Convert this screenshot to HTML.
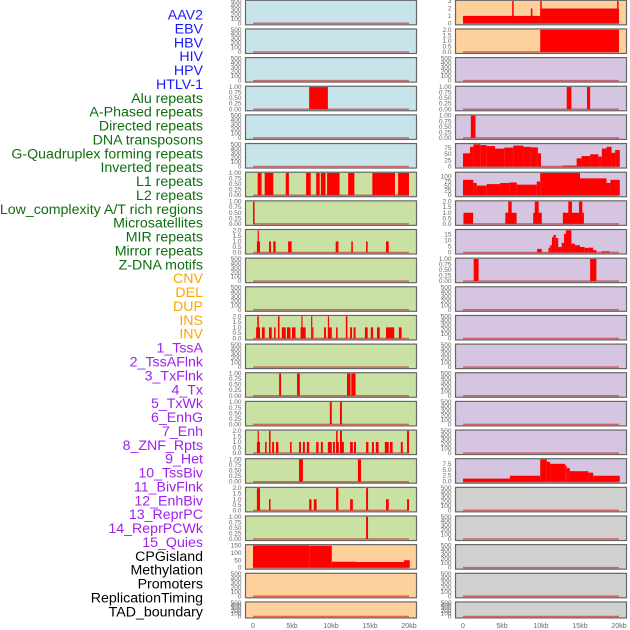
<!DOCTYPE html>
<html><head><meta charset="utf-8"><style>
html,body{margin:0;padding:0;background:#fff;width:630px;height:630px;overflow:hidden}
svg{display:block;font-family:"Liberation Sans",sans-serif}
</style></head><body>
<svg id="chart" width="630" height="630" viewBox="0 0 630 630"></svg>
<script>
// ---- labels ----
const trackLabels = ["AAV2","EBV","HBV","HIV","HPV","HTLV-1","Alu repeats","A-Phased repeats","Directed repeats","DNA transposons","G-Quadruplex forming repeats","Inverted repeats","L1 repeats","L2 repeats","Low_complexity A/T rich regions","Microsatellites","MIR repeats","Mirror repeats","Z-DNA motifs","CNV","DEL","DUP","INS","INV","1_TssA","2_TssAFlnk","3_TxFlnk","4_Tx","5_TxWk","6_EnhG","7_Enh","8_ZNF_Rpts","9_Het","10_TssBiv","11_BivFlnk","12_EnhBiv","13_ReprPC","14_ReprPCWk","15_Quies","CPGisland","Methylation","Promoters","ReplicationTiming","TAD_boundary"];
const labelGroups = [6,13,5,15,5];
const groupColors = ["#1a1aff","#0f6e0f","#ffa500","#a020f0","#000000"];
const xTickValues = [0,5,10,15,20];
const xTickLabels = ["0","5kb","10kb","15kb","20kb"];

// ---- panel data: segments [startKb, endKb, value] ----
const L3 = [[7.2,9.6,1]];
const L6 = [[0.6,1.1,1],[1.5,2.6,1],[4.2,4.6,1],[6.8,7.4,1],[8.1,8.55,1],[8.7,9.3,1],[9.5,11.1,1],[12.2,13.0,1],[15.3,18.2,1],[18.6,20.0,1]];
const L7 = [[0,0.2,1]];
const L8 = [[0.5,0.9,1],[0.6,0.75,2],[2.05,2.3,1],[2.6,2.9,1],[4.5,4.95,1],[10.6,10.95,1],[12.6,12.8,1],[14.5,14.7,1],[17.05,17.4,1]];
const L11 = [[0.4,0.9,1],[0.55,0.75,2],[1.15,1.5,1],[2.05,2.4,1],[2.7,2.9,1],[3.2,3.4,2],[3.7,4.2,1],[4.35,4.8,1],[5.0,5.45,1],[6.1,6.75,1],[6.2,6.35,2],[7.45,7.6,2],[7.6,7.75,1],[9.1,9.35,1],[9.6,10.1,1],[9.6,9.75,2],[10.65,10.85,1],[11.9,12.1,2],[12.45,12.7,1],[12.9,13.15,1],[14.35,14.7,1],[15.1,15.4,1],[15.9,16.25,1],[17.05,18.1,1],[18.7,19.05,1]];
const L13 = [[3.35,3.6,1],[5.65,6.0,1],[12.05,12.5,1],[12.6,13.15,1]];
const L14 = [[9.85,10.1,1],[11.15,11.4,1]];
const L15 = [[0.5,0.9,1],[0.6,0.75,2],[1.55,1.75,1],[2.05,2.25,2],[2.45,2.7,1],[2.95,3.25,1],[4.75,4.95,1],[5.9,6.15,1],[6.4,6.65,1],[6.9,7.2,1],[8.1,8.4,1],[8.7,8.95,1],[9.6,10.1,1],[10.25,10.5,1],[10.65,11.0,1],[10.65,10.85,2],[11.15,11.65,1],[11.15,11.4,2],[12.45,12.8,1],[12.95,13.2,1],[14.5,14.8,1],[15.25,15.5,1],[15.75,16.1,1],[16.9,17.4,1],[17.55,17.9,1],[18.95,19.2,1],[19.75,20.0,2]];
const L16 = [[5.9,6.4,1],[13.45,13.85,1]];
const L17 = [[0.5,0.9,2],[2.05,2.25,1],[7.2,7.5,1],[7.8,8.15,1],[10.65,10.95,2],[12.45,12.8,1],[14.5,14.75,2],[17.05,17.4,1],[19.75,20.0,1]];
const L18 = [[14.5,14.75,1]];
const L19 = [[0,7.2,150],[7.2,10.1,148],[10.1,13.2,40],[13.2,19.35,38],[19.35,20.1,50]];
const R0 = [[0,9.9,1],[9.9,20,2],[6.3,6.5,3],[8.7,8.9,2],[9.9,10.1,3],[19.75,19.95,3]];
const R1 = [[9.9,20,2]];
const R3 = [[13.3,13.9,1],[15.9,16.3,1]];
const R4 = [[1.0,1.6,1]];
const R5 = [[0,0.9,53],[0.9,1.33,79],[1.33,2.2,89],[2.2,3.04,86],[3.04,4.1,82],[4.1,5.3,72],[5.3,6.45,76],[6.45,7.74,84],[7.74,8.7,79],[8.7,9.6,77],[9.6,10.0,53],[12.8,14.57,4],[14.57,15.2,33],[15.2,16.3,42],[16.3,17.35,49],[17.35,17.8,40],[17.8,18.4,72],[18.4,19.05,79],[19.05,19.5,55],[19.5,20.1,66]];
const R6 = [[0,1.33,83],[1.33,1.76,66],[1.76,3.04,52],[3.04,4.75,60],[4.75,6.0,66],[6.0,6.9,69],[6.9,9.45,57],[9.45,9.9,74],[9.9,15.0,120],[15.0,18.4,91],[18.4,18.9,66],[18.9,20.1,83]];
const R7 = [[0.06,1.3,1],[5.43,6.87,1],[5.8,6.24,2],[9.0,10.1,1],[9.2,9.7,2],[12.8,15.5,1],[13.5,13.97,2],[14.87,15.3,2]];
const R8 = [[9.5,10.09,3],[10.96,11.17,4],[11.17,11.4,6],[11.4,11.6,12.7],[11.6,11.9,14.6],[11.9,12.2,12],[12.2,12.65,4.6],[12.65,12.95,8],[12.95,13.2,15.4],[13.2,13.9,18.4],[13.9,14.35,7.3],[14.35,15.0,6],[15.0,15.6,4.6],[15.6,16.07,3.8],[16.07,16.7,4],[16.7,17.1,2],[17.77,18.8,1]];
const R9 = [[1.37,2.0,1],[16.3,17.1,1]];
const R16 = [[0,6.0,1.3],[6.0,9.9,2.5],[9.9,10.75,9.3],[10.75,11.17,8.3],[11.17,13.1,7.5],[13.1,13.3,6.75],[13.3,13.7,5.7],[13.7,16.07,4.4],[16.07,16.7,3.8],[16.7,20.1,2.5]];

// tick label sets
const T500 = [0,100,200,300,400,500];
const T1 = [0,0.25,0.5,0.75,1.0];
const T2 = [0,0.5,1.0,1.5,2.0];

const BLUE="#c8e4eb", GREEN="#c9e2a4", ORANGE="#fed09c", PURPLE="#d5c5e1", GRAY="#d0d0d0";
// [col,row,bg,segments,ymax,ticks,decimals]
const panels = [
 [0,0,BLUE,[],500,T500,0],[0,1,BLUE,[],500,T500,0],[0,2,BLUE,[],500,T500,0],
 [0,3,BLUE,L3,1,T1,2],[0,4,BLUE,[],500,T500,0],[0,5,BLUE,[],500,T500,0],
 [0,6,GREEN,L6,1,T1,2],[0,7,GREEN,L7,1,T1,2],[0,8,GREEN,L8,2,T2,1],
 [0,9,GREEN,[],500,T500,0],[0,10,GREEN,[],500,T500,0],[0,11,GREEN,L11,2,T2,1],
 [0,12,GREEN,[],500,T500,0],[0,13,GREEN,L13,1,T1,2],[0,14,GREEN,L14,1,T1,2],
 [0,15,GREEN,L15,2,T2,1],[0,16,GREEN,L16,1,T1,2],[0,17,GREEN,L17,2,T2,1],
 [0,18,GREEN,L18,1,T1,2],[0,19,ORANGE,L19,150,[0,50,100,150],0],
 [0,20,ORANGE,[],500,T500,0],[0,21,ORANGE,[],500,T500,0],
 [1,0,ORANGE,R0,3,[0,1,2,3],0],[1,1,ORANGE,R1,2,T2,1],[1,2,PURPLE,[],500,T500,0],
 [1,3,PURPLE,R3,1,T1,2],[1,4,PURPLE,R4,1,T1,2],[1,5,PURPLE,R5,89,[0,25,50,75],0],
 [1,6,PURPLE,R6,120,[0,25,50,75,100],0],[1,7,PURPLE,R7,2,T2,1],[1,8,PURPLE,R8,18.4,[0,5,10,15],0],
 [1,9,PURPLE,R9,1,T1,2],[1,10,PURPLE,[],500,T500,0],[1,11,PURPLE,[],500,T500,0],
 [1,12,PURPLE,[],500,T500,0],[1,13,PURPLE,[],500,T500,0],[1,14,PURPLE,[],500,T500,0],
 [1,15,PURPLE,[],500,T500,0],[1,16,PURPLE,R16,9.3,[0,2.5,5,7.5],1],
 [1,17,GRAY,[],500,T500,0],[1,18,GRAY,[],500,T500,0],[1,19,GRAY,[],500,T500,0],
 [1,20,GRAY,[],500,T500,0],[1,21,GRAY,[],500,T500,0]
];

const NS="http://www.w3.org/2000/svg";
const svg=document.getElementById('chart');
function mk(tag,attrs,parent){const e=document.createElementNS(NS,tag);for(const k in attrs)e.setAttribute(k,attrs[k]);(parent||svg).appendChild(e);return e;}
const colLeft=[245.5,455.5], panelW=171;
const xZero=[253,463], pxPerKb=7.8;
function xScale(col,kb){return xZero[col]+kb*pxPerKb;}
function rowTop(r){return 0.3+r*28.65;}
function rowH(r){return r===21?16:24.5;}

// labels
let li=0;
labelGroups.forEach((n,g)=>{for(let k=0;k<n;k++){
  const t=mk('text',{x:203,y:19.5+li*13.88,'text-anchor':'end','font-size':'14.2',fill:groupColors[g]});
  t.textContent=trackLabels[li];
  
  
  li++;}});

panels.forEach(p=>{
  const [col,row,bg,segs,ymax,ticks,dec]=p;
  const g=mk('g',{});
  
  
  const top=rowTop(row),h=rowH(row),x0=colLeft[col];
  const y0=top+h-1.5, yTop=top+0.8;
  const yScale=v=>y0-(v/ymax)*(y0-yTop);
  mk('rect',{x:x0,y:top,width:panelW,height:h,fill:bg},g);
  segs.forEach(s=>{
    const xa=xScale(col,s[0]),xb=xScale(col,s[1]);
    const r=mk('rect',{x:xa,y:yScale(s[2]),width:Math.max(xb-xa,1),height:y0-yScale(s[2]),fill:'#ff0000'},g);
    
    
  });
  const bl=mk('line',{x1:xScale(col,0),x2:xScale(col,20),y1:y0,y2:y0,stroke:'rgba(200,30,30,0.6)','stroke-width':1.5},g);
  
  
  mk('rect',{x:x0,y:top,width:panelW,height:h,fill:'none',stroke:'#666','stroke-width':1.2},g);
  ticks.forEach(v=>{
    const t=mk('text',{x:x0-4,y:yScale(v)+2,'text-anchor':'end','font-size':'6.5',fill:'#666'},g);
    t.textContent=v.toFixed(dec);
    
    
  });
});

[0,1].forEach(col=>{
  xTickValues.forEach((v,i)=>{
    const t=mk('text',{x:xScale(col,v),y:628,'text-anchor':'middle','font-size':'7',fill:'#666'});
    t.textContent=xTickLabels[i];
    
    
  });
});
</script>
</body></html>
